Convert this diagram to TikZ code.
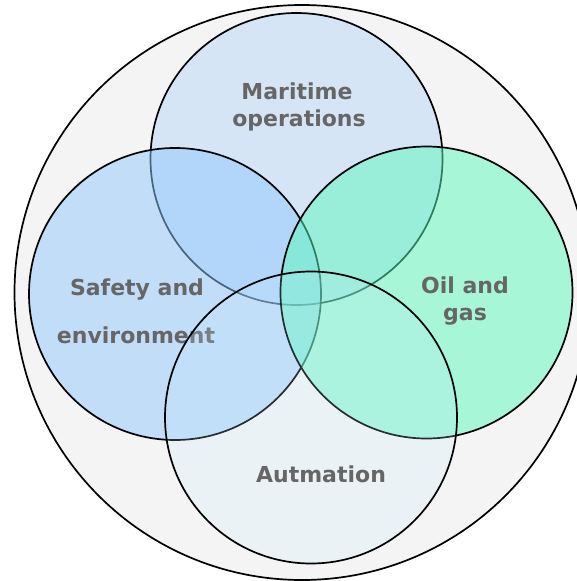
\documentclass[tikz,border=0pt]{standalone}
\usepackage{fontspec}
\setmainfont{DejaVu Sans}
\definecolor{outerfill}{RGB}{244,244,244}
\definecolor{maritime}{RGB}{184,216,248}
\definecolor{safety}{RGB}{144,200,252}
\definecolor{oilgas}{RGB}{92,248,188}
\definecolor{automation}{RGB}{194,234,255}
\definecolor{labelgray}{RGB}{102,102,102}
\begin{document}
\begin{tikzpicture}[x=1pt, y=-1pt,
  venn/.style={shape=circle, draw, line width=1.7pt, fill opacity=0.5, inner sep=0pt, minimum size=292pt},
  lbl/.style={anchor=base, text=labelgray, font=\fontsize{22}{26}\selectfont\bfseries}]
\useasboundingbox (0,0) rectangle (577,581);
\node[shape=circle, draw, line width=1.7pt, fill=outerfill, inner sep=0pt, minimum size=575pt] (U) at (302, 292.5) {};
\node[venn, fill=maritime] (M) at (296.5, 159) {};
\node[lbl] (M1) at (297, 99) {Maritime};
\node[lbl] (M2) at (299, 126) {operations};
\node[venn, fill=safety] (S) at (175, 294) {};
\node[lbl] (S1) at (137, 295) {Safety and};
\node[lbl] (S2) at (136, 343) {environment};
\node[venn, fill=oilgas] (O) at (426.5, 292.5) {};
\node[lbl] (O1) at (465, 293) {Oil and};
\node[lbl] (O2) at (465, 320) {gas};
\node[venn, fill=automation, fill opacity=0.2] (A) at (311, 417.5) {};
\node[lbl] (A1) at (321, 482) {Autmation};
\end{tikzpicture}
\end{document}
